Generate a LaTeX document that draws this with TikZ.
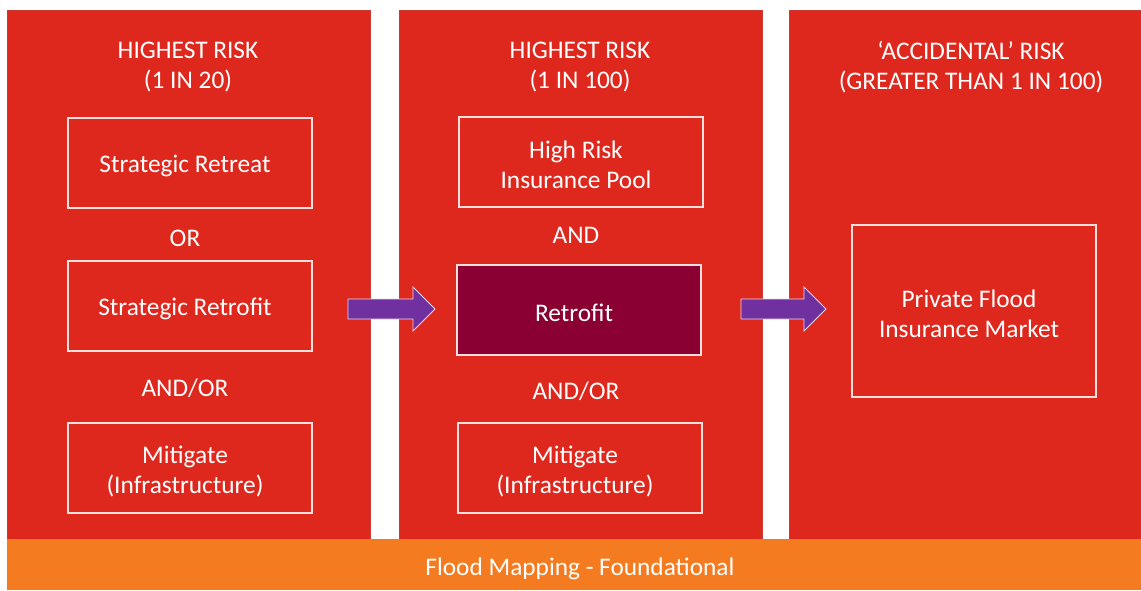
\documentclass[tikz,border=0pt]{standalone}
\usepackage{fontspec}
\setmainfont{Carlito}
\definecolor{panelred}{HTML}{DF281D}
\definecolor{barorange}{HTML}{F47B20}
\definecolor{crimson}{HTML}{8B0033}
\definecolor{arrowpurple}{HTML}{7030A0}
\tikzset{
  panel/.style={fill=panelred, draw=panelred!80!gray, line width=0.5pt},
  optbox/.style={draw=white!85!panelred, line width=1.1pt, minimum width=183pt, minimum height=67.5pt, inner sep=0pt},
  boxtext/.style={text=white, align=center, font=\fontsize{19}{22.5}\selectfont, inner sep=0pt, xshift=-3.75pt, yshift=-2.25pt},
  hdr/.style={text=white, align=center, font=\fontsize{19}{22.5}\selectfont, inner sep=0pt},
  conj/.style={text=white, font=\fontsize{19}{22}\selectfont, inner sep=0pt},
  bigarrow/.style={fill=arrowpurple, draw=white!80!arrowpurple, line width=0.6pt, line join=miter},
}
\begin{document}
\begin{tikzpicture}[x=0.75pt, y=-0.75pt]
\useasboundingbox (0,0) rectangle (1141,590);
\fill[white] (0,0) rectangle (1141,590);
% panels
\draw[panel] (7,10) rectangle (370,539);
\draw[panel] (399,10) rectangle (762,539);
\draw[panel] (789,10) rectangle (1141,539);
% bottom bar
\fill[barorange] (7,539) rectangle (1141,590);
\node[text=white, font=\fontsize{19}{22}\selectfont, inner sep=0pt] (flood) at (580,569) {Flood Mapping - Foundational};
% panel 1
\node[hdr] (h1) at (188,67) {HIGHEST RISK\\(1 IN 20)};
\node[optbox] (retreat) at (190,163) {};
\node[boxtext] (retreat-t) at (retreat.center) {Strategic Retreat};
\node[conj] (or) at (185,238) {OR};
\node[optbox] (sretrofit) at (190,306) {};
\node[boxtext] (sretrofit-t) at (sretrofit.center) {Strategic Retrofit};
\node[conj] (andor1) at (185,388) {AND/OR};
\node[optbox] (mit1) at (190,468) {};
\node[boxtext] (mit1-t) at (mit1.center) {Mitigate\\(Infrastructure)};
% panel 2
\node[hdr] (h2) at (580,67) {HIGHEST RISK\\(1 IN 100)};
\node[optbox] (pool) at (581,162) {};
\node[boxtext] (pool-t) at (pool.center) {High Risk\\Insurance Pool};
\node[conj] (and) at (576,235) {AND};
\node[optbox, fill=crimson] (retrofit) at (579,310) {};
\node[boxtext] (retrofit-t) at (retrofit.center) {Retrofit};
\node[conj] (andor2) at (576,391) {AND/OR};
\node[optbox] (mit2) at (580,468) {};
\node[boxtext] (mit2-t) at (mit2.center) {Mitigate\\(Infrastructure)};
% panel 3
\node[hdr] (h3) at (971,67) {‘ACCIDENTAL’ RISK\\(GREATER THAN 1 IN 100)};
\node[optbox, minimum height=129pt] (market) at (974,311) {};
\node[boxtext] (market-t) at (market.center) {Private Flood\\Insurance Market};
% block arrows
\draw[bigarrow] (348,299) -- (413,299) -- (413,287) -- (435,309) -- (413,331) -- (413,319) -- (348,319) -- cycle;
\draw[bigarrow] (741,299) -- (804,299) -- (804,287) -- (826,309) -- (804,331) -- (804,319) -- (741,319) -- cycle;
\end{tikzpicture}
\end{document}
